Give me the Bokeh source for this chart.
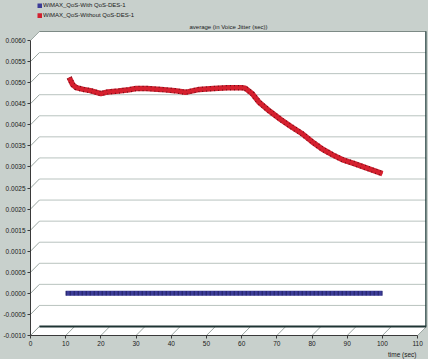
from bokeh.plotting import figure
from bokeh.models import (ColumnDataSource, FixedTicker, Legend, LegendItem, Label, Title,
                          Range1d, GlobalInlineStyleSheet)
from bokeh.embed import file_html
from bokeh.resources import INLINE

# ---------------- data ----------------
series_names = ["WiMAX_QoS-With QoS-DES-1", "WiMAX_QoS-Without QoS-DES-1"]
title_text = "average (in Voice Jitter (sec))"
x_axis_label = "time (sec)"

with_qos_time = [10, 20, 30, 40, 50, 60, 70, 80, 90, 100]
with_qos_jitter = [0.0, 0.0, 0.0, 0.0, 0.0, 0.0, 0.0, 0.0, 0.0, 0.0]

without_qos_time = [11, 12, 13, 15, 17, 20, 22, 25, 28, 30, 33, 37, 41, 44, 48, 52,
                    56, 60, 61, 63, 65, 68, 71, 74, 77, 80, 83, 86, 89, 92, 95, 98, 100]
without_qos_jitter = [0.00512, 0.00495, 0.00488, 0.00484, 0.00481, 0.00474, 0.00478,
                      0.00480, 0.00483, 0.00486, 0.00486, 0.00484, 0.00481, 0.00477,
                      0.00484, 0.00486, 0.00488, 0.00488, 0.00487, 0.00474, 0.00453,
                      0.00432, 0.00413, 0.00396, 0.00380, 0.00360, 0.00342, 0.00328,
                      0.00316, 0.00308, 0.00299, 0.00290, 0.00284]

x_ticks = [0, 10, 20, 30, 40, 50, 60, 70, 80, 90, 100, 110]
x_tick_labels = ["0", "10", "20", "30", "40", "50", "60", "70", "80", "90", "100", "110"]
y_ticks = [-0.0010, -0.0005, 0.0000, 0.0005, 0.0010, 0.0015, 0.0020, 0.0025,
           0.0030, 0.0035, 0.0040, 0.0045, 0.0050, 0.0055, 0.0060]
y_tick_labels = ["-0.0010", "-0.0005", "0.0000", "0.0005", "0.0010", "0.0015", "0.0020",
                 "0.0025", "0.0030", "0.0035", "0.0040", "0.0045", "0.0050", "0.0055",
                 "0.0060"]

# ---------------- layout / style ----------------
W, H = 428, 359
FRAME_L, FRAME_R, FRAME_B = 25, 426, 335
PLOT_T = 31          # top of the back wall (px)
DEPTH = 9            # px, pseudo-3D depth
BG = "#c8d0cc"
FONT = "Liberation Sans"
NARROW = "'Liberation Sans Narrow', 'Liberation Sans', sans-serif"
TXT = "#1a1a1a"

x0, x1 = x_ticks[0], x_ticks[-1]
y0, y1 = y_ticks[0], y_ticks[-1]
fw = FRAME_R - FRAME_L
ph = FRAME_B - PLOT_T
xscale = (fw - DEPTH) / (x1 - x0)
yscale = (ph - DEPTH) / (y1 - y0)
dx = DEPTH / xscale
dy = DEPTH / yscale
y_top = y0 + FRAME_B / yscale   # frame reaches the top of the canvas

p = figure(width=W, height=H, output_backend="svg", toolbar_location=None, title=None,
           x_range=Range1d(x0, x1 + dx), y_range=Range1d(y0, y_top),
           min_border_left=FRAME_L, min_border_right=W - FRAME_R,
           min_border_top=0, min_border_bottom=H - FRAME_B)
p.stylesheets = [GlobalInlineStyleSheet(
    css="html,body{margin:0;padding:0;background:%s;overflow:hidden}" % BG)]
p.background_fill_color = BG
p.border_fill_color = BG
p.outline_line_color = None
p.xgrid.visible = False
p.ygrid.visible = False

# back wall + side walls
p.patch([x0, x0, x0 + dx, x1 + dx, x1 + dx, x1],
        [y0, y1, y1 + dy, y1 + dy, y0 + dy, y0],
        fill_color="white", line_color=None)

# grid lines on back wall
gy = [v + dy for v in y_ticks[1:]]
p.segment(x0=[x0 + dx] * len(gy), y0=gy, x1=[x1 + dx] * len(gy), y1=gy,
          line_color="#b9c3bf", line_width=1)
# diagonals from front ticks to back wall
p.segment(x0=[x0] * len(y_ticks), y0=y_ticks,
          x1=[x0 + dx] * len(y_ticks), y1=[v + dy for v in y_ticks],
          line_color="#9aa5a1", line_width=1)
p.segment(x0=x_ticks, y0=[y0] * len(x_ticks),
          x1=[t + dx for t in x_ticks], y1=[y0 + dy] * len(x_ticks),
          line_color="#9aa5a1", line_width=1)
# back wall edges
p.segment(x0=[x0 + dx], y0=[y1 + dy], x1=[x1 + dx], y1=[y1 + dy],
          line_color="#7d8a86", line_width=1)
p.segment(x0=[x0 + dx], y0=[y0 + dy], x1=[x1 + dx], y1=[y0 + dy],
          line_color="#1f3534", line_width=2)
p.segment(x0=[x1 + dx], y0=[y0 + dy], x1=[x1 + dx], y1=[y1 + dy],
          line_color="#1e3b3a", line_width=2.5)

# data
src_with = ColumnDataSource(dict(t=with_qos_time, v=with_qos_jitter))
src_without = ColumnDataSource(dict(t=without_qos_time, v=without_qos_jitter))
r_blue = p.line("t", "v", source=src_with, line_color="#3c3c98", line_width=5)
p.line("t", "v", source=src_with, line_color="#1c1c55", line_width=4.5, line_dash="1 3",
       line_alpha=0.8)
r_red = p.line("t", "v", source=src_without, line_color="#d22030", line_width=5.5,
               line_join="round")
p.line("t", "v", source=src_without, line_color="#300000", line_width=5.5, line_dash="1 3",
       line_join="round", line_alpha=0.6)
p.line("t", "v", source=src_without, line_color="#d6202e", line_width=3, line_join="round")

# title (inside the frame, which reaches the top of the canvas)
p.add_layout(Label(x=(x0 + x1 + dx) / 2, y=y1 + dy + 5 / yscale, text=title_text,
                   text_align="center", text_baseline="middle", text_font=FONT,
                   text_font_size="6px", text_color=TXT))

# legend: the thick line glyph drawn over a short width gives a square swatch
legend = Legend(items=[LegendItem(label=series_names[0], renderers=[r_blue]),
                       LegendItem(label=series_names[1], renderers=[r_red])],
                location=(7, FRAME_B - 20), orientation="vertical",
                glyph_width=5, glyph_height=5, label_height=10, label_width=10,
                spacing=0, padding=0, margin=0, label_standoff=1,
                label_text_font=NARROW, label_text_font_size="6px", label_text_color=TXT,
                background_fill_alpha=0, border_line_color=None)
p.add_layout(legend)

# axes
for ax in (p.xaxis[0], p.yaxis[0]):
    ax.axis_line_color = "#3a3a3a"
    ax.axis_line_width = 1
    ax.major_tick_line_color = "#3a3a3a"
    ax.major_tick_out = 3
    ax.major_tick_in = 0
    ax.minor_tick_line_color = None
    ax.major_label_text_font = FONT
    ax.major_label_text_font_size = "6.5px"
    ax.major_label_text_color = TXT
    ax.major_label_standoff = 2

p.xaxis.bounds = (x0, x1)
p.xaxis.ticker = FixedTicker(ticks=x_ticks)
p.xaxis.major_label_overrides = dict(zip(x_ticks, x_tick_labels))
p.yaxis.bounds = (y0, y1)
p.yaxis.ticker = FixedTicker(ticks=y_ticks)
p.yaxis.major_label_overrides = dict(zip(y_ticks, y_tick_labels))

# x-axis title, right-aligned under the axis end
p.add_layout(Title(text=x_axis_label, align="right", offset=10, standoff=0,
                   text_font=FONT, text_font_size="6.5px", text_font_style="normal",
                   text_color=TXT), "below")

open("out.html", "w").write(file_html(p, INLINE))
